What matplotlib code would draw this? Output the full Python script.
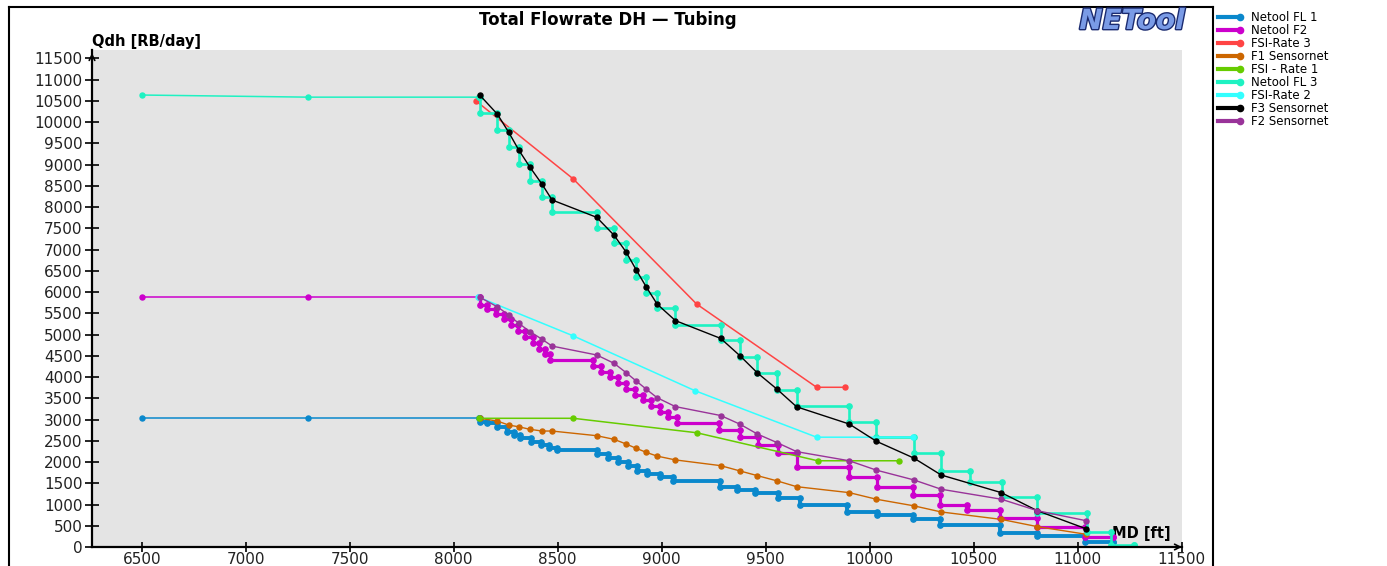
import numpy as np
import matplotlib
matplotlib.use('Agg')
import matplotlib.pyplot as plt
from matplotlib.lines import Line2D
from matplotlib.legend_handler import HandlerLine2D
import matplotlib.patheffects as pe

# sensornet stations (MD ft) and rates (RB/day)
sensor_md = np.array([8125, 8210, 8265, 8313, 8367, 8425, 8473, 8688, 8771, 8829, 8877, 8925, 8978,
                      9066, 9284, 9377, 9460, 9556, 9649, 9902, 10032, 10212, 10344, 10633, 10806, 11040])
f3_sensornet = np.array([10640, 10190, 9760, 9345, 8940, 8540, 8170, 7760, 7340, 6945, 6530, 6130, 5720,
                         5330, 4910, 4500, 4100, 3710, 3300, 2895, 2490, 2095, 1695, 1280, 855, 430])
f2_sensornet = np.array([5880, 5655, 5460, 5265, 5070, 4890, 4730, 4520, 4325, 4105, 3910, 3720, 3515,
                         3305, 3095, 2890, 2660, 2455, 2245, 2030, 1810, 1580, 1360, 1125, 855, 620])
f1_sensornet = np.array([3030, 2965, 2870, 2830, 2770, 2730, 2730, 2620, 2535, 2425, 2325, 2230, 2140,
                         2050, 1915, 1790, 1680, 1555, 1420, 1280, 1125, 970, 825, 650, 480, 300])

# FSI rates
fsi3_md = [8105, 8575, 9168, 9745, 9882]
fsi3_rate = [10510, 8665, 5720, 3760, 3760]
fsi2_md = [8115, 8575, 9160, 9745, 10210]
fsi2_rate = [5890, 4970, 3680, 2585, 2585]
fsi1_md = [8120, 8575, 9168, 9750, 10140]
fsi1_rate = [3030, 3030, 2690, 2030, 2030]

# Netool profiles: rate[i] holds from md[i] to md[i+1]
fl1_md = [6500, 7300, 8120, 8125, 8160, 8210, 8255, 8290, 8320, 8370, 8420, 8460, 8495, 8690, 8740,
          8790, 8840, 8880, 8930, 8990, 9055, 9280, 9360, 9450, 9560, 9665, 9890, 10034, 10210, 10338,
          10627, 10803, 11035, 11170]
fl1_rate = [3030, 3030, 3030, 2950, 2910, 2830, 2715, 2640, 2560, 2480, 2400, 2320, 2285, 2180, 2100,
            2000, 1900, 1800, 1720, 1640, 1560, 1420, 1340, 1265, 1150, 990, 830, 755, 650, 520,
            340, 250, 125, 125]

f2_md = [6500, 7300, 8120, 8125, 8160, 8205, 8240, 8275, 8310, 8345, 8380, 8410, 8440, 8465, 8670,
         8710, 8750, 8790, 8830, 8870, 8910, 8950, 8990, 9030, 9075, 9275, 9375, 9465, 9560, 9650,
         9900, 10034, 10208, 10338, 10470, 10627, 10803, 11035, 11170]
f2_rate = [5880, 5880, 5880, 5700, 5600, 5480, 5360, 5230, 5090, 4950, 4800, 4670, 4540, 4400, 4260,
           4130, 4000, 3870, 3730, 3590, 3450, 3310, 3180, 3050, 2910, 2750, 2590, 2400, 2210, 1890,
           1655, 1420, 1225, 1000, 880, 680, 470, 240, 240]

fl3_md = [6500, 7300, 8120, 8125, 8210, 8265, 8313, 8367, 8425, 8473, 8688, 8771, 8829, 8877, 8925,
          8978, 9066, 9284, 9377, 9460, 9556, 9649, 9902, 10032, 10212, 10344, 10483, 10635, 10803,
          11043, 11160, 11270]
fl3_rate = [10640, 10590, 10590, 10210, 9815, 9415, 9015, 8615, 8240, 7885, 7510, 7150, 6755, 6365,
            5970, 5625, 5225, 4875, 4480, 4095, 3695, 3320, 2950, 2590, 2215, 1795, 1540, 1185, 800,
            360, 45, 45]


def stairs(md, rate):
    # corner points of the step profile
    md = np.asarray(md, float)
    rate = np.asarray(rate, float)
    return np.repeat(md, 2)[1:], np.repeat(rate, 2)[:-1]


def plot_netool(ax, md, rate, color, lw):
    # thin lead-in above the completion, thick steps along it
    ax.plot(md[:3], rate[:3], color=color, lw=1.1, marker='o', ms=3.6)
    x, y = stairs(md[2:], rate[2:])
    ax.plot(x, y, color=color, lw=lw, marker='o', ms=3.8)


class EndMarkerHandler(HandlerLine2D):
    # legend sample with the marker at the right end
    def create_artists(self, legend, orig_handle, xdescent, ydescent, width, height, fontsize, trans):
        y = (height - ydescent) / 2
        line = Line2D([-xdescent, width - xdescent], [y, y])
        self.update_prop(line, orig_handle, legend)
        line.set_marker('None')
        line.set_transform(trans)
        dot = Line2D([width - xdescent], [y])
        self.update_prop(dot, orig_handle, legend)
        dot.set_linestyle('None')
        dot.set_transform(trans)
        return [line, dot]


W, H = 1387, 566
fig = plt.figure(figsize=(W / 100, H / 100), dpi=100)
ax = fig.add_axes([92 / W, 19 / H, 1090 / W, 497 / H])
ax.set_facecolor('#e4e4e4')

names = ['Netool FL 1', 'Netool F2', 'FSI-Rate 3', 'F1 Sensornet', 'FSI - Rate 1',
         'Netool FL 3', 'FSI-Rate 2', 'F3 Sensornet', 'F2 Sensornet']
colors = ['#0a88cc', '#cc00cc', '#ff4444', '#cc6600', '#66cc00',
          '#1ef2c2', '#33ffff', '#000000', '#993399']

plot_netool(ax, fl1_md, fl1_rate, colors[0], 2.8)
plot_netool(ax, f2_md, f2_rate, colors[1], 2.3)
ax.plot(fsi3_md, fsi3_rate, color=colors[2], lw=1.1, marker='o', ms=3.6)
ax.plot(sensor_md, f1_sensornet, color=colors[3], lw=1.0, marker='o', ms=3.6)
ax.plot(fsi1_md, fsi1_rate, color=colors[4], lw=1.1, marker='o', ms=3.6)
plot_netool(ax, fl3_md, fl3_rate, colors[5], 1.9)
ax.plot(fsi2_md, fsi2_rate, color=colors[6], lw=1.1, marker='o', ms=3.6)
ax.plot(sensor_md, f3_sensornet, color=colors[7], lw=1.0, marker='o', ms=3.6)
ax.plot(sensor_md, f2_sensornet, color=colors[8], lw=1.0, marker='o', ms=3.6)

ax.set_xlim(6261, 11502)
ax.set_ylim(0, 11700)
ax.set_xticks(np.arange(6500, 11501, 500))
ax.set_yticks(np.arange(0, 11501, 500))
for s in ['top', 'right']:
    ax.spines[s].set_visible(False)
for s in ['left', 'bottom']:
    ax.spines[s].set_linewidth(1.6)
ax.tick_params(axis='y', direction='inout', length=9.5, width=1.2, labelsize=11, labelcolor='#222222', pad=2)
ax.tick_params(axis='x', direction='inout', length=6.5, width=1.2, labelsize=11, labelcolor='#222222', pad=0.5)

# axis arrows
ax.annotate('', xy=(1.0, 0), xytext=(0.98, 0), xycoords='axes fraction',
            arrowprops=dict(arrowstyle='->', color='k', lw=1.2, shrinkA=0, shrinkB=0), annotation_clip=False)
ax.annotate('', xy=(0, 0.994), xytext=(0, 0.96), xycoords='axes fraction',
            arrowprops=dict(arrowstyle='->', color='k', lw=1.2, shrinkA=0, shrinkB=0), annotation_clip=False)

ax.set_ylabel('Qdh [RB/day]', rotation=0, fontsize=10.5, fontweight='bold', ha='left', va='center')
ax.yaxis.set_label_coords(0, 1.018)
ax.set_xlabel('MD [ft]', fontsize=10.5, fontweight='bold', ha='left', va='center')
ax.xaxis.set_label_coords(0.936, 0.028)
ax.set_title('Total Flowrate DH — Tubing', fontsize=12, fontweight='bold', x=0.473, y=1.06, va='center', pad=0)

fig.text(1132 / W, 1 - 21 / H, 'NETool', fontsize=20, fontweight='bold', style='italic', color='#7a9be6',
         ha='center', va='center', path_effects=[pe.withStroke(linewidth=2, foreground='#1b2b70')])

# outer frame
top = 1 - 7 / H
fig.add_artist(Line2D([9 / W, 9 / W], [0, top], transform=fig.transFigure, color='k', lw=1.5))
fig.add_artist(Line2D([9 / W, 1213 / W], [top, top], transform=fig.transFigure, color='k', lw=1.5))
fig.add_artist(Line2D([1213 / W, 1213 / W], [0, top], transform=fig.transFigure, color='k', lw=1.5))

handles = [Line2D([], [], color=c, lw=3, marker='o', ms=4.5) for c in colors]
fig.legend(handles, names, loc='upper left', bbox_to_anchor=(1218 / W, 1 - 11 / H), frameon=False,
           fontsize=8.5, handlelength=1.9, handletextpad=0.9, labelspacing=0.0, borderaxespad=0,
           borderpad=0, handler_map={Line2D: EndMarkerHandler()})

fig.savefig('out.png', dpi=100)
